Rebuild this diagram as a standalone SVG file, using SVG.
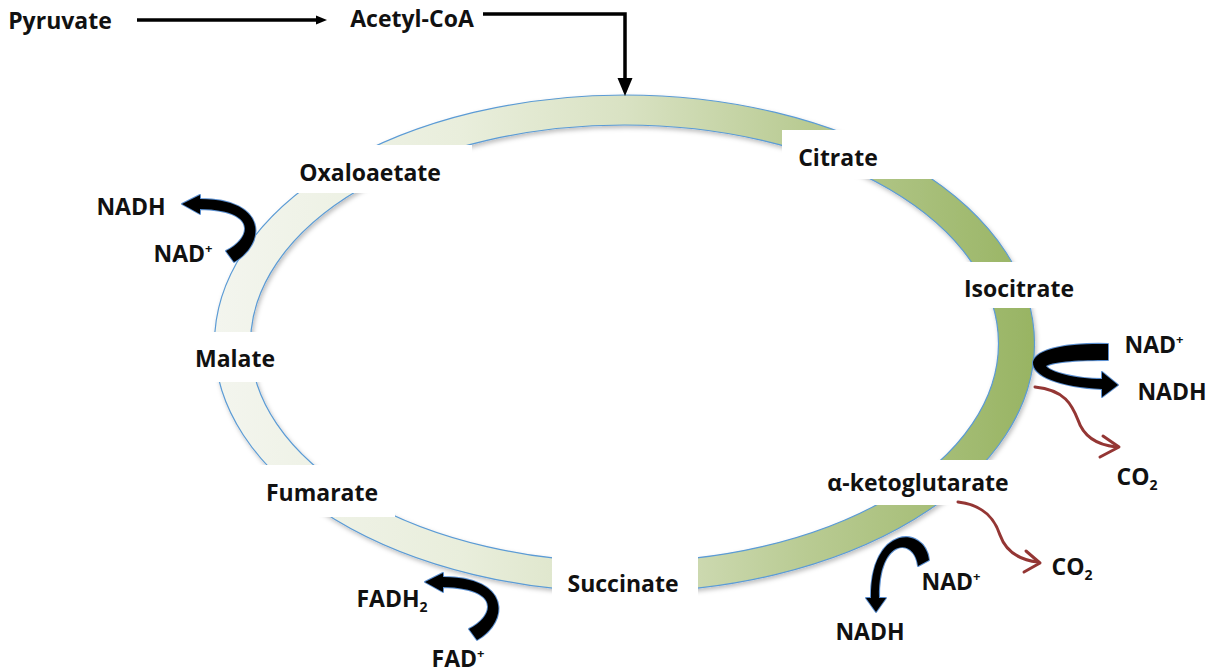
<svg xmlns="http://www.w3.org/2000/svg" width="1217" height="672" viewBox="0 0 1217 672">
<style>
text{font-family:"Open Sans","Liberation Sans",sans-serif;font-weight:bold;font-size:23px;fill:#111;text-anchor:middle}
.box{fill:#fff}
.cof{fill:#000;stroke:#5b8fd0;stroke-width:2;stroke-linejoin:round;paint-order:stroke}
.co2{fill:none;stroke:#943634;stroke-width:3;stroke-linecap:round;stroke-linejoin:round}
.blk{fill:none;stroke:#000;stroke-width:3.5}
</style>
<defs>
<linearGradient id="ringGrad" x1="214" y1="0" x2="1035" y2="0" gradientUnits="userSpaceOnUse">
<stop offset="0" stop-color="#f3f5ee"/>
<stop offset="0.3" stop-color="#e9eedc"/>
<stop offset="0.5" stop-color="#d9e2c3"/>
<stop offset="0.72" stop-color="#b9cb93"/>
<stop offset="1" stop-color="#98b463"/>
</linearGradient>
<filter id="sh" x="-5%" y="-5%" width="110%" height="115%">
<feDropShadow dx="1.5" dy="2.5" stdDeviation="2" flood-color="#000" flood-opacity="0.25"/>
</filter>
</defs>

<g id="cycle-ring">
<path filter="url(#sh)" fill="url(#ringGrad)" stroke="#5b9bd5" stroke-width="1.2" fill-rule="evenodd" d="M 214.5,343.5 a 410,248.5 0 1,0 820,0 a 410,248.5 0 1,0 -820,0 Z M 250.5,343.5 a 374,218.5 0 1,0 748,0 a 374,218.5 0 1,0 -748,0 Z"/>
</g>

<g id="oxaloacetate"><rect class="box" x="280" y="145" width="192" height="48"/><text x="370" y="181">Oxaloaetate</text></g>
<g id="citrate"><rect class="box" x="782" y="130" width="170" height="49"/><text x="838" y="166">Citrate</text></g>
<g id="isocitrate"><rect class="box" x="950" y="262" width="140" height="46"/><text x="1019" y="297">Isocitrate</text></g>
<g id="malate"><rect class="box" x="185" y="332" width="105" height="50"/><text x="235" y="367">Malate</text></g>
<g id="fumarate"><rect class="box" x="250" y="465" width="145" height="52"/><text x="322" y="501">Fumarate</text></g>
<g id="succinate"><rect class="box" x="552" y="548" width="146" height="64"/><text x="623" y="592">Succinate</text></g>
<g id="alpha-ketoglutarate"><rect class="box" x="815" y="460" width="205" height="45"/><text x="918" y="491">α-ketoglutarate</text></g>

<g id="pyruvate"><text x="60" y="29">Pyruvate</text></g>
<g id="acetyl-coa"><text x="412" y="27">Acetyl-CoA</text></g>

<g id="cofactors">
<text x="131" y="215">NADH</text>
<text x="183" y="262">NAD<tspan font-size="13" dy="-9">+</tspan></text>
<text x="1154" y="353">NAD<tspan font-size="13" dy="-9">+</tspan></text>
<text x="1172" y="400">NADH</text>
<text x="1137" y="485">CO<tspan font-size="14" dy="5">2</tspan></text>
<text x="1072" y="575">CO<tspan font-size="14" dy="5">2</tspan></text>
<text x="951" y="590">NAD<tspan font-size="13" dy="-9">+</tspan></text>
<text x="870" y="640">NADH</text>
<text x="392" y="607">FADH<tspan font-size="14" dy="5">2</tspan></text>
<text x="458" y="667">FAD<tspan font-size="13" dy="-9">+</tspan></text>
</g>

<g id="connectors">
<path class="blk" d="M 137,20 L 318,20"/>
<polygon points="327,20 316,15.5 316,24.5" fill="#000"/>
<path class="blk" d="M 483,14 L 625,14 L 625,82" stroke-linejoin="miter"/>
<polygon points="625,96 617.5,78 632.5,78" fill="#000"/>

<path class="cof" d="M 226,251 C 252,238 258,210 200,209 L 200,214 L 182,204 L 200,195 L 200,199 C 268,199 266,244 234,262 Z"/>
<path class="cof" transform="translate(243,378)" d="M 226,251 C 252,238 258,210 200,209 L 200,214 L 182,204 L 200,195 L 200,199 C 268,199 266,244 234,262 Z"/>
<path class="cof" d="M 929,560 C 925,525 870,525 871,598 L 866,598 L 876,612 L 886,598 L 879,598 C 878,537 915,537 918,566 Z"/>
<path class="cof" d="M 1108,344 C 1070,343 1036,348 1033,362 C 1032,376 1060,387 1102,389 L 1102,397 L 1118,385 L 1102,372 L 1102,379 C 1075,379 1050,372 1046,366 C 1055,361 1080,360 1108,360 Z"/>

<path class="co2" d="M 1035,387 C 1065,390 1072,405 1078,420 C 1084,438 1098,445 1116,447"/>
<path class="co2" d="M 1103,436 L 1119,447 L 1100,457"/>
<path class="co2" d="M 958,502 C 985,505 995,520 1000,535 C 1006,552 1020,560 1038,562"/>
<path class="co2" d="M 1026,551 L 1040,563 L 1024,572"/>
</g>
</svg>
